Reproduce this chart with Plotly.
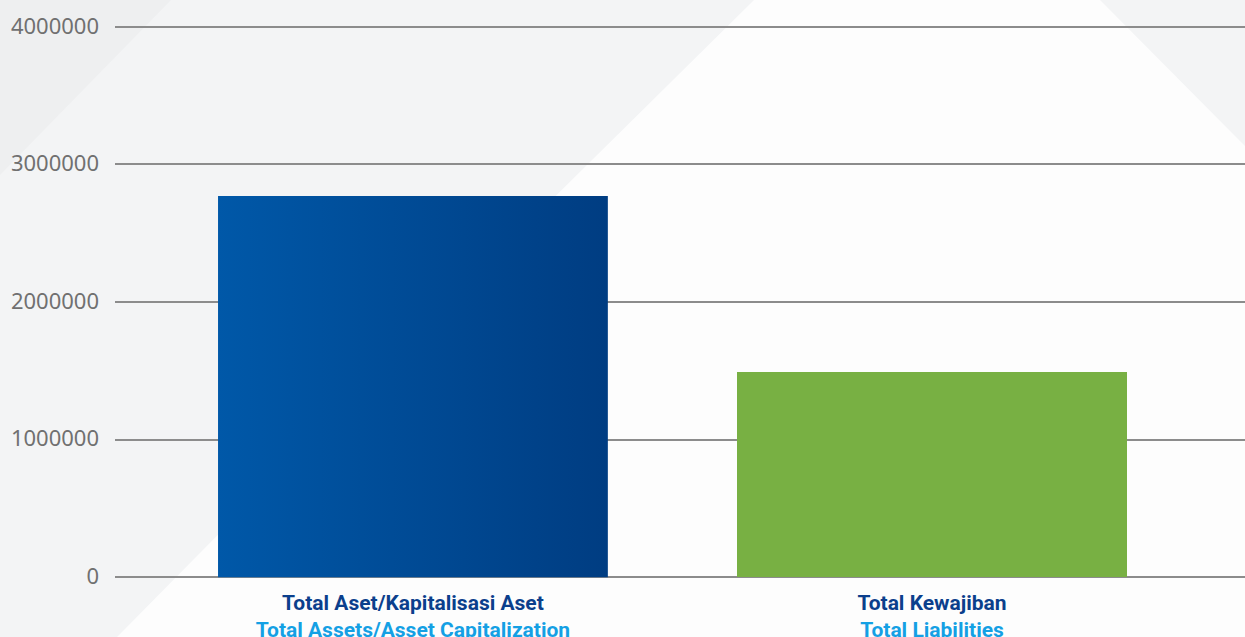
import plotly.graph_objects as go

# ---- data ----
categories_id = ["Total Aset/Kapitalisasi Aset", "Total Kewajiban"]
categories_en = ["Total Assets/Asset Capitalization", "Total Liabilities"]
values = [2770000, 1495000]
y_ticks = [0, 1000000, 2000000, 3000000, 4000000]
y_ticktext = ["0", "1000000", "2000000", "3000000", "4000000"]

BAR_W = 0.751
NAVY = "#0b3f8c"
SKY = "#14a0e4"
GREEN = "#78b043"
PAPER = "#f3f4f5"

fig = go.Figure()

# blue bar with horizontal gradient (built from the data value)
x0, v0 = 0, values[0]
fig.add_trace(go.Scatter(
    x=[x0 - BAR_W / 2, x0 + BAR_W / 2, x0 + BAR_W / 2, x0 - BAR_W / 2, x0 - BAR_W / 2],
    y=[0, 0, v0, v0, 0],
    mode="lines", line=dict(width=0),
    fill="toself",
    fillgradient=dict(type="horizontal",
                      colorscale=[[0, "#0058a8"], [1, "#003d82"]]),
    hoverinfo="skip", showlegend=False,
))

# green bar
fig.add_trace(go.Bar(
    x=[1], y=[values[1]], width=BAR_W,
    marker=dict(color=GREEN, line=dict(width=0)),
    showlegend=False,
))

ticktext = [
    f"<b>{a}</b><br><span style='color:{SKY}'><b>{b}</b></span>"
    for a, b in zip(categories_id, categories_en)
]

# decorative background shapes (paper coordinates)
W, H = 1245, 637
L, T, PH = 115, 20, 560


def px(x, y):
    return f"{(x - L) / (W - L):.4f} {1 - (y - T) / PH:.4f}"


def poly(pts):
    return "M " + " L ".join(px(x, y) for x, y in pts) + " Z"


shapes = [
    dict(type="path", xref="paper", yref="paper", layer="below",
         path=poly([(0, 0), (171, 0), (0, 175)]),
         fillcolor="#eeeff0", line=dict(width=0)),
    dict(type="path", xref="paper", yref="paper", layer="below",
         path=poly([(754, 0), (1100, 0), (1245, 146), (1245, 637), (117, 637), (420, 330)]),
         fillcolor="rgba(255,255,255,0.8)", line=dict(width=0)),
]

fig.update_layout(
    width=W, height=H,
    margin=dict(l=L, r=0, t=T, b=H - T - PH, pad=0),
    paper_bgcolor=PAPER,
    plot_bgcolor="rgba(0,0,0,0)",
    shapes=shapes,
    bargap=0,
    xaxis=dict(
        range=[-0.574, 1.603],
        tickmode="array", tickvals=[0, 1], ticktext=ticktext,
        showgrid=False, zeroline=False, showline=False,
        tickfont=dict(family="Roboto", size=21, color=NAVY),
        ticklabelstandoff=8,
        automargin=False,
    ),
    yaxis=dict(
        range=[-20000, 4050000],
        tickmode="array", tickvals=y_ticks, ticktext=y_ticktext,
        showgrid=True, gridcolor="#8c8c8c", gridwidth=1.6,
        zeroline=True, zerolinecolor="#8c8c8c", zerolinewidth=1.6,
        showline=False,
        tickfont=dict(family="Noto Sans", size=22, color="#707070"),
        ticklabelstandoff=15,
        ticklabelshift=-1,
        automargin=False,
    ),
)

fig.write_html(
    "out.html", config={"displayModeBar": False},
    post_script=f"document.body.style.margin='0px';document.body.style.background='{PAPER}';",
)
